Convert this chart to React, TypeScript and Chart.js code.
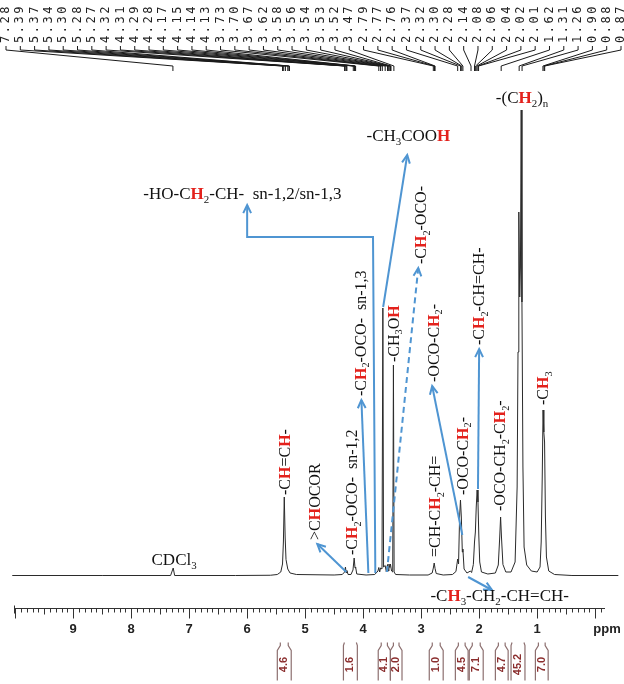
import React, { useEffect, useRef } from 'react';
import { Chart, registerables } from 'chart.js';
Chart.register(...registerables);

// ---- data ----
const peakLabels = ['7.28','5.39','5.37','5.34','5.30','5.28','5.27','4.32','4.31','4.29','4.28','4.17','4.15','4.14','4.13','3.73','3.70','3.67','3.62','3.58','3.56','3.54','3.53','3.52','3.47','2.79','2.77','2.76','2.37','2.32','2.30','2.28','2.14','2.08','2.06','2.04','2.02','2.01','1.62','1.31','1.26','0.90','0.88','0.87'];

// [ppm, intensity]
const spectrum: [number, number][] = [
  [10.05, 0.3], [8.5, 0.3], [7.32, 0.3], [7.275, 1.8], [7.25, 0.3], [6.2, 0.3], [5.6, 0.35],
  [5.48, 0.5], [5.42, 1.0], [5.39, 2.6], [5.375, 7], [5.36, 16], [5.345, 8], [5.33, 3.5], [5.30, 1.6], [5.26, 0.8], [5.15, 0.5], [4.5, 0.4],
  [4.36, 0.5], [4.32, 1.0], [4.305, 2.0], [4.295, 0.9], [4.28, 1.3], [4.26, 0.5], [4.21, 0.5], [4.175, 1.4], [4.155, 3.8], [4.14, 1.8], [4.13, 2.0], [4.11, 0.6], [3.95, 0.4],
  [3.80, 0.5], [3.745, 1.2], [3.73, 1.9], [3.715, 1.0], [3.70, 1.8], [3.675, 1.6], [3.66, 53.8], [3.648, 2.0], [3.62, 2.3], [3.60, 1.0], [3.58, 2.5], [3.565, 1.2], [3.555, 2.6], [3.54, 1.9], [3.53, 2.6], [3.51, 1.2], [3.49, 1.0], [3.478, 42.4], [3.466, 1.0], [3.44, 0.5], [3.2, 0.4],
  [2.88, 0.4], [2.81, 0.8], [2.79, 1.8], [2.775, 2.8], [2.76, 1.7], [2.74, 0.7], [2.62, 0.4],
  [2.46, 0.5], [2.40, 1.1], [2.37, 3.6], [2.355, 2.6], [2.337, 12], [2.322, 15.4], [2.307, 12], [2.29, 5], [2.28, 5.6], [2.26, 1.6], [2.21, 0.8], [2.15, 1.2], [2.13, 0.9],
  [2.10, 2.5], [2.08, 7], [2.065, 9], [2.05, 14], [2.035, 17.4], [2.02, 15], [2.005, 8], [1.99, 3], [1.96, 1.0], [1.85, 0.6],
  [1.72, 0.8], [1.67, 2.4], [1.645, 8], [1.63, 12], [1.615, 8], [1.59, 2.5], [1.54, 1.0], [1.45, 1.0],
  [1.38, 3], [1.345, 18], [1.33, 45], [1.316, 73], [1.30, 56], [1.288, 62], [1.275, 93.4], [1.262, 55], [1.245, 22], [1.225, 6], [1.18, 2.4], [1.10, 1.2], [1.00, 1.0],
  [0.95, 2.0], [0.93, 7], [0.912, 20], [0.898, 33.4], [0.885, 29], [0.872, 27], [0.857, 12], [0.84, 4], [0.80, 1.2], [0.70, 0.5], [0.4, 0.3], [-0.4, 0.3]
];

const tickValues = [9, 8, 7, 6, 5, 4, 3, 2, 1];
const tickLabels = ['9', '8', '7', '6', '5', '4', '3', '2', '1'];

const integralValues = ['4.6', '1.6', '4.1', '2.0', '1.0', '4.5', '7.1', '4.7', '45.2', '7.0'];
const integralFrom = [5.48, 4.34, 3.74, 3.53, 2.86, 2.41, 2.17, 1.72, 1.45, 1.03];
const integralTo = [5.24, 4.10, 3.53, 3.33, 2.62, 2.19, 1.93, 1.50, 1.21, 0.81];
const integralNeck = [true, false, true, true, true, true, true, true, false, true];

// annotation texts: {H} = red bold, _x = subscript
const verticalNotes: { text: string; ppm: number; v: number }[] = [
  { text: '-C{H}=C{H}-', ppm: 5.36, v: 16.4 },
  { text: '>C{H}OCOR', ppm: 4.84, v: 7.4 },
  { text: '-C{H}_2-OCO-  sn-1,2', ppm: 4.19, v: 4.4 },
  { text: '-C{H}_2-OCO-  sn-1,3', ppm: 4.05, v: 36.2 },
  { text: '-CH_3O{H}', ppm: 3.48, v: 43.0 },
  { text: '-C{H}_2-OCO-', ppm: 3.0, v: 62.6 },
  { text: '-OCO-C{H}_2-', ppm: 2.79, v: 39.0 },
  { text: '=CH-C{H}_2-CH=', ppm: 2.76, v: 4.0 },
  { text: '-OCO-C{H}_2-', ppm: 2.29, v: 16.4 },
  { text: '-C{H}_2-CH=CH-', ppm: 2.0, v: 46.4 },
  { text: '-OCO-CH_2-C{H}_2-', ppm: 1.64, v: 13.2 },
  { text: '-C{H}_3', ppm: 0.90, v: 34.4 }
];
const horizontalNotes: { text: string; ppm: number; v: number; align: 'center' | 'left' }[] = [
  { text: '-(C{H}_2)_n', ppm: 1.26, v: 94.8, align: 'center' },
  { text: '-CH_3COO{H}', ppm: 3.22, v: 87.2, align: 'center' },
  { text: '-HO-C{H}_2-CH-  sn-1,2/sn-1,3', ppm: 7.79, v: 75.6, align: 'left' },
  { text: 'CDCl_3', ppm: 7.26, v: 2.4, align: 'center' },
  { text: '-C{H}_3-CH_2-CH=CH-', ppm: 2.84, v: -4.8, align: 'left' }
];
const arrows: { pts: [number, number][]; dashed: boolean }[] = [
  { pts: [[3.79, 0.8], [3.83, 68], [6.0, 68], [6.0, 74.4]], dashed: false },
  { pts: [[3.91, 0.8], [4.03, 35.4]], dashed: false },
  { pts: [[3.655, 54], [3.24, 84.4]], dashed: false },
  { pts: [[3.59, 1.0], [3.05, 61.8]], dashed: true },
  { pts: [[4.29, 1.0], [4.79, 6.6]], dashed: false },
  { pts: [[2.29, 8.4], [2.81, 38.2]], dashed: false },
  { pts: [[2.02, 17.6], [2.0, 45.6]], dashed: false },
  { pts: [[2.19, 0], [1.78, -2.6]], dashed: false }
];

const BLUE = '#4f95d2';
const RED = '#e3211c';
const SERIF = '"Liberation Serif", "Times New Roman", serif';

function parseRich(s: string) {
  const segs: { t: string; red: boolean; sub: boolean }[] = [];
  let red = false;
  for (let i = 0; i < s.length; i++) {
    const c = s[i];
    if (c === '{') { red = true; continue; }
    if (c === '}') { red = false; continue; }
    if (c === '_') { segs.push({ t: s[i + 1], red, sub: true }); i++; continue; }
    segs.push({ t: c, red, sub: false });
  }
  return segs;
}

function drawRich(ctx: CanvasRenderingContext2D, s: string, x: number, y: number, size: number, vertical: boolean, align: 'center' | 'left') {
  const segs = parseRich(s);
  ctx.save();
  ctx.translate(x, y);
  if (vertical) ctx.rotate(-Math.PI / 2);
  ctx.textBaseline = 'alphabetic';
  ctx.textAlign = 'left';
  const fontFor = (g: { red: boolean; sub: boolean }) => `${g.red ? 'bold ' : ''}${g.sub ? (size * 0.64).toFixed(1) : size}px ${SERIF}`;
  let total = 0;
  for (const g of segs) { ctx.font = fontFor(g); total += ctx.measureText(g.t).width; }
  let cx = align === 'center' ? -total / 2 : 0;
  const baseOff = vertical ? size * 0.33 : 0;
  for (const g of segs) {
    ctx.font = fontFor(g);
    ctx.fillStyle = g.red ? RED : '#111';
    ctx.fillText(g.t, cx, baseOff + (g.sub ? size * 0.22 : 0));
    cx += ctx.measureText(g.t).width;
  }
  ctx.restore();
}

function drawArrow(ctx: CanvasRenderingContext2D, pts: [number, number][], dashed: boolean) {
  ctx.save();
  ctx.strokeStyle = BLUE;
  ctx.lineWidth = 2;
  ctx.setLineDash(dashed ? [6, 4] : []);
  ctx.beginPath();
  pts.forEach(([x, y], i) => (i ? ctx.lineTo(x, y) : ctx.moveTo(x, y)));
  ctx.stroke();
  ctx.setLineDash([]);
  const [x1, y1] = pts[pts.length - 2];
  const [x2, y2] = pts[pts.length - 1];
  const a = Math.atan2(y2 - y1, x2 - x1);
  const L = 9, w = 0.45;
  ctx.beginPath();
  ctx.moveTo(x2 - L * Math.cos(a - w), y2 - L * Math.sin(a - w));
  ctx.lineTo(x2, y2);
  ctx.lineTo(x2 - L * Math.cos(a + w), y2 - L * Math.sin(a + w));
  ctx.stroke();
  ctx.restore();
}

const bgPlugin = {
  id: 'bg',
  beforeDraw(chart: any) {
    const ctx = chart.ctx;
    ctx.save();
    ctx.fillStyle = '#fff';
    ctx.fillRect(0, 0, chart.width, chart.height);
    ctx.restore();
  }
};

const nmrPlugin = {
  id: 'nmr',
  afterDraw(chart: any) {
    const ctx: CanvasRenderingContext2D = chart.ctx;
    const xs = chart.scales.x, ys = chart.scales.y;
    const X = (p: number) => xs.getPixelForValue(p);
    const Y = (v: number) => ys.getPixelForValue(v);
    const area = chart.chartArea;

    // top peak labels & connectors
    ctx.save();
    const n = peakLabels.length;
    const step = (chart.width - 9) / (n - 1);
    ctx.strokeStyle = '#1a1a1a';
    ctx.lineWidth = 1;
    peakLabels.forEach((lab, i) => {
      const lx = 6 + i * step;
      const px = X(parseFloat(lab));
      ctx.beginPath();
      ctx.moveTo(lx, 46);
      ctx.lineTo(lx, 50);
      ctx.lineTo(px, 66);
      ctx.lineTo(px, 71);
      ctx.stroke();
      ctx.save();
      ctx.translate(lx, 43);
      ctx.rotate(-Math.PI / 2);
      ctx.font = '12px "DejaVu Sans Mono", monospace';
      (ctx as any).letterSpacing = '2.5px';
      ctx.fillStyle = '#222';
      ctx.textBaseline = 'middle';
      ctx.textAlign = 'left';
      ctx.fillText(lab, 0, 0);
      ctx.restore();
    });
    ctx.restore();

    // ruler axis
    ctx.save();
    ctx.strokeStyle = '#333';
    ctx.lineWidth = 1;
    const ay = Math.round(area.bottom) + 0.5;
    ctx.beginPath();
    ctx.moveTo(area.left, ay);
    ctx.lineTo(area.right, ay);
    ctx.stroke();
    ctx.beginPath();
    ctx.moveTo(area.left + 0.5, ay - 3);
    ctx.lineTo(area.left + 0.5, ay + 5);
    for (let k = 100; k >= -1; k--) {
      const px = Math.round(X(k / 10)) + 0.5;
      if (px < area.left || px > area.right) continue;
      const len = k % 10 === 0 ? 10 : k % 5 === 0 ? 6 : 4;
      ctx.moveTo(px, ay);
      ctx.lineTo(px, ay + len);
    }
    ctx.stroke();
    ctx.fillStyle = '#222';
    ctx.font = 'bold 13px "Liberation Sans", Arial, sans-serif';
    ctx.textAlign = 'center';
    ctx.textBaseline = 'middle';
    tickValues.forEach((v, i) => ctx.fillText(tickLabels[i], X(v), ay + 21));
    ctx.fillText('ppm', 607, ay + 21);
    ctx.restore();

    // integrals
    ctx.save();
    integralValues.forEach((val, i) => {
      const xl = X(integralFrom[i]), xr = X(integralTo[i]);
      const top = ay + 34, bot = ay + 72;
      ctx.strokeStyle = '#8d7070';
      ctx.lineWidth = 1.2;
      ctx.beginPath();
      if (integralNeck[i]) {
        ctx.moveTo(xl + 3, top); ctx.lineTo(xl + 3, top + 3); ctx.lineTo(xl, top + 8); ctx.lineTo(xl, bot);
        ctx.moveTo(xr - 3, top); ctx.lineTo(xr - 3, top + 3); ctx.lineTo(xr, top + 8); ctx.lineTo(xr, bot);
      } else {
        ctx.moveTo(xl + 1, top); ctx.lineTo(xl, top + 3); ctx.lineTo(xl, bot);
        ctx.moveTo(xr - 1, top); ctx.lineTo(xr, top + 3); ctx.lineTo(xr, bot);
      }
      ctx.stroke();
      ctx.save();
      ctx.translate((xl + xr) / 2, ay + 56);
      ctx.rotate(-Math.PI / 2);
      ctx.font = 'bold 11px "Liberation Sans", Arial, sans-serif';
      ctx.fillStyle = '#8b2e2e';
      ctx.textAlign = 'center';
      ctx.textBaseline = 'middle';
      ctx.fillText(val, 0, 0);
      ctx.restore();
    });
    ctx.restore();

    // arrows
    arrows.forEach((a) => drawArrow(ctx, a.pts.map(([p, v]) => [X(p), Y(v)] as [number, number]), a.dashed));

    // texts
    verticalNotes.forEach((nt) => drawRich(ctx, nt.text, X(nt.ppm), Y(nt.v), 16, true, 'left'));
    horizontalNotes.forEach((nt) => drawRich(ctx, nt.text, X(nt.ppm), Y(nt.v), 17, false, nt.align));
  }
};

export default function App() {
  const ref = useRef<HTMLCanvasElement | null>(null);
  useEffect(() => {
    document.body.style.margin = '0';
    const canvas = ref.current!;
    const chart = new Chart(canvas, {
      type: 'scatter',
      data: {
        datasets: [
          {
            data: spectrum.map(([x, y]) => ({ x, y })),
            showLine: true,
            borderColor: '#2b2b2b',
            borderWidth: 1,
            pointRadius: 0,
            tension: 0,
            clip: false as any
          }
        ]
      },
      options: {
        animation: false,
        responsive: false,
        devicePixelRatio: 1,
        layout: { padding: { left: 14, right: 19, top: 90, bottom: 76 } },
        scales: {
          x: { type: 'linear', reverse: true, min: -0.17, max: 10.02, display: false },
          y: { type: 'linear', min: -6.2, max: 97.4, display: false }
        },
        plugins: { legend: { display: false }, tooltip: { enabled: false } }
      },
      plugins: [bgPlugin, nmrPlugin]
    });
    return () => chart.destroy();
  }, []);
  return (
    <div style={{ position: 'absolute', left: 0, top: 0, width: 624, height: 684 }}>
      <canvas ref={ref} width={624} height={684} style={{ display: 'block' }} />
    </div>
  );
}
